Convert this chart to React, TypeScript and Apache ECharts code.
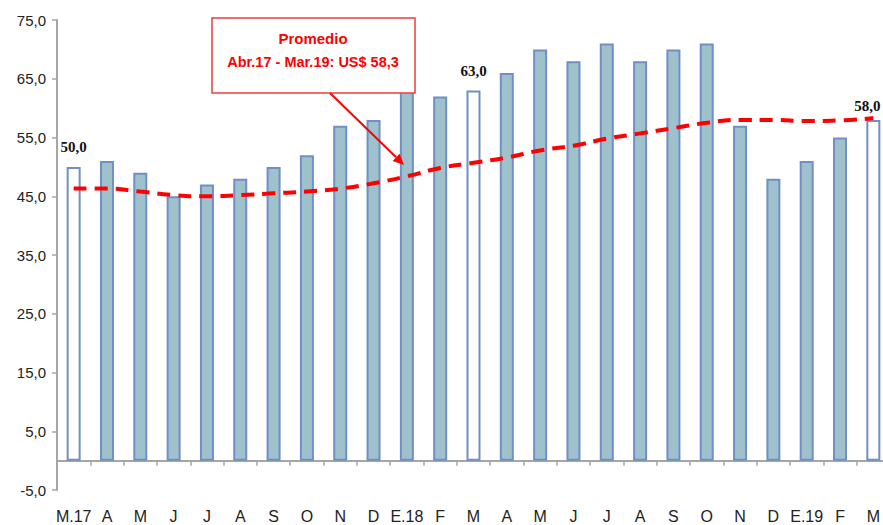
import React, { useEffect, useRef } from "react";
import * as echarts from "echarts";

const categories = ["M.17", "A", "M", "J", "J", "A", "S", "O", "N", "D", "E.18", "F", "M", "A", "M", "J", "J", "A", "S", "O", "N", "D", "E.19", "F", "M"];
const prices = [50, 51, 49, 45, 47, 48, 50, 52, 57, 58, 64, 62, 63, 66, 70, 68, 71, 68, 70, 71, 57, 48, 51, 55, 58];
const average = [46.3, 46.3, 45.8, 45.2, 45.0, 45.2, 45.5, 45.8, 46.3, 47.2, 48.4, 49.8, 50.7, 51.6, 52.8, 53.6, 54.8, 55.7, 56.6, 57.5, 58.0, 58.0, 57.8, 57.9, 58.3];
const hollowIndices = [0, 12, 24];
const yTicks = { min: -5, max: 75, interval: 10 };
const calloutTitle = "Promedio";
const calloutText = "Abr.17 - Mar.19: US$ 58,3";

const fmt = (v: number) => v.toFixed(1).replace(".", ",");

export default function App() {
  const ref = useRef<HTMLDivElement>(null);
  useEffect(() => {
    if (!ref.current) return;
    const chart = echarts.init(ref.current, undefined, { renderer: "svg" });
    const sans = "'Liberation Sans', Arial, sans-serif";
    const tip = [404, 165];
    const start = [330, 93];
    const dx = tip[0] - start[0], dy = tip[1] - start[1];
    const len = Math.sqrt(dx * dx + dy * dy);
    const ux = dx / len, uy = dy / len;
    const bx = tip[0] - 11 * ux, by = tip[1] - 11 * uy;
    const px = -uy, py = ux;
    const lastIndex = prices.length - 1;
    chart.setOption({
      animation: false,
      grid: { left: 57, right: -7, top: 20, bottom: 35, containLabel: false, outerBoundsMode: "none" },
      xAxis: {
        type: "category",
        data: categories,
        boundaryGap: true,
        axisLine: { onZero: true, lineStyle: { color: "#a6a6a6", width: 2 } },
        axisTick: { show: true, length: 5, lineStyle: { color: "#a6a6a6", width: 1.5 } },
        axisLabel: { margin: 18, color: "#222", fontSize: 16, fontFamily: sans, interval: 0 },
      },
      yAxis: {
        type: "value",
        min: yTicks.min,
        max: yTicks.max,
        interval: yTicks.interval,
        splitLine: { show: false },
        axisLine: { show: true, lineStyle: { color: "#a6a6a6", width: 2 } },
        axisTick: { show: true, length: 5, lineStyle: { color: "#a6a6a6", width: 1.5 } },
        axisLabel: { formatter: (v: number) => fmt(v), color: "#222", fontSize: 15, fontFamily: sans, margin: 11 },
      },
      series: [
        {
          type: "bar",
          barWidth: 14,
          data: prices.map((v, i) => {
            const hollow = hollowIndices.includes(i);
            return {
              value: v,
              itemStyle: { color: hollow ? "#ffffff" : "#9fc1cc", borderColor: "#6f8fc6", borderWidth: 2 },
              label: hollow
                ? {
                    show: true,
                    position: "top",
                    distance: i === lastIndex ? 6 : 12,
                    offset: i === lastIndex ? [-6, 0] : [0, 0],
                    formatter: (p: any) => fmt(p.value),
                    fontFamily: "'Liberation Serif', 'Times New Roman', serif",
                    fontWeight: "bold",
                    fontSize: 15,
                    color: "#111",
                  }
                : { show: false },
            };
          }),
          z: 2,
        },
        {
          type: "line",
          data: average,
          smooth: true,
          symbol: "none",
          lineStyle: { color: "#ff0000", width: 4, type: [13, 8] },
          z: 3,
        },
      ],
      graphic: [
        { type: "rect", shape: { x: 212, y: 18, width: 203, height: 75 }, style: { fill: "#fff", stroke: "#f03c3c", lineWidth: 1.5 }, z: 10 },
        { type: "text", x: 313, y: 38, style: { text: calloutTitle, fill: "#ff0000", font: `bold 15px ${sans}`, textAlign: "center", textVerticalAlign: "middle" }, z: 11 },
        { type: "text", x: 313, y: 62, style: { text: calloutText, fill: "#ff0000", font: `bold 14.5px ${sans}`, textAlign: "center", textVerticalAlign: "middle" }, z: 11 },
        { type: "line", shape: { x1: start[0], y1: start[1], x2: bx, y2: by }, style: { stroke: "#ff0000", lineWidth: 2 }, z: 11 },
        { type: "polygon", shape: { points: [[tip[0], tip[1]], [bx + 5 * px, by + 5 * py], [bx - 5 * px, by - 5 * py]] }, style: { fill: "#ff0000" }, z: 11 },
      ],
    });
    return () => chart.dispose();
  }, []);
  return <div ref={ref} style={{ position: "fixed", left: 0, top: 0, width: 883, height: 525, background: "#fff" }} />;
}
